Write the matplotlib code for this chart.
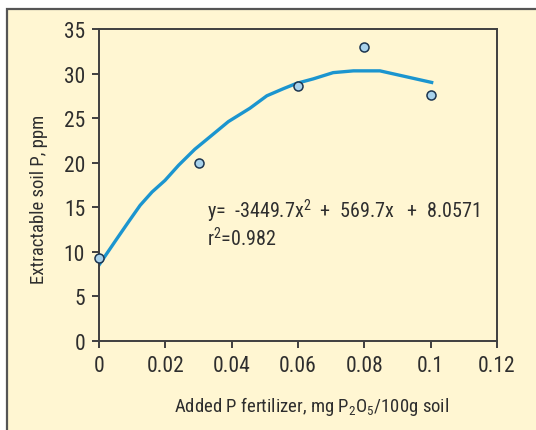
import matplotlib
matplotlib.use("Agg")
import matplotlib.pyplot as plt
from matplotlib.patches import Rectangle

# Data
p_added = [0.0, 0.03, 0.06, 0.08, 0.10]
soil_p = [9.25, 19.95, 28.55, 33.0, 27.6]

# fitted curve as drawn
fit_x = [0.0, 0.0053, 0.009, 0.0124, 0.016, 0.0199, 0.024, 0.0289, 0.0325,
         0.039, 0.0455, 0.0506, 0.0556, 0.0596, 0.0646, 0.0706, 0.0767,
         0.0847, 0.0907, 0.1003]
fit_y = [8.5, 11.4, 13.4, 15.2, 16.7, 18.0, 19.7, 21.5, 22.6,
         24.6, 26.1, 27.5, 28.3, 28.9, 29.4, 30.1, 30.3,
         30.3, 29.8, 29.0]

xticks = [0, 0.02, 0.04, 0.06, 0.08, 0.1, 0.12]
xticklabels = ["0", "0.02", "0.04", "0.06", "0.08", "0.1", "0.12"]
yticks = [0, 5, 10, 15, 20, 25, 30, 35]

cream = "#fff6d2"
dark = "#3f3f3f"
txtc = "#2e2e2e"
font = ["Roboto Condensed", "DejaVu Sans"]

plt.rcParams['font.family'] = font
plt.rcParams['mathtext.fontset'] = 'custom'
plt.rcParams['mathtext.rm'] = 'Roboto Condensed'
plt.rcParams['mathtext.default'] = 'regular'

fig = plt.figure(figsize=(5.36, 4.31), dpi=100)
fig.patch.set_facecolor("white")
# outer cream box
box = Rectangle((7 / 536, -0.1), 1.2, 1.1 - 10 / 431,
                transform=fig.transFigure, facecolor=cream,
                edgecolor="#555555", linewidth=1.6, zorder=-10)
fig.patches.append(box)

ax = fig.add_axes([99 / 536, 1 - 341.7 / 431, 398 / 536, 311.7 / 431])
ax.set_facecolor(cream)

ax.plot(fit_x, fit_y, color="#1b95cf", linewidth=2.4, zorder=2)
ax.plot(p_added, soil_p, "o", markersize=6.5, markerfacecolor="#a8d2ec",
        markeredgecolor="#1c3550", markeredgewidth=1.1, zorder=3, clip_on=False)

ax.set_xlim(0, 0.12)
ax.set_ylim(0, 35)
ax.set_xticks(xticks)
ax.set_xticklabels(xticklabels)
ax.set_yticks(yticks)
for s in ax.spines.values():
    s.set_color(dark)
    s.set_linewidth(1.4)
ax.tick_params(direction="out", length=5, width=1.4, color=dark,
               labelsize=15.5, labelcolor=txtc, pad=5)

ax.set_xlabel("Added P fertilizer, mg P$_2$O$_5$/100g soil", fontsize=13.5,
              color=txtc)
ax.xaxis.set_label_coords(0.535, -0.17)
ax.set_ylabel("Extractable soil P, ppm", fontsize=13.5, color=txtc)
ax.yaxis.set_label_coords(-0.128, 0.458)

ax.text(0.0325, 13.8, "y=  -3449.7x$^2$  +  569.7x   +  8.0571", fontsize=14.5,
        color=txtc)
ax.text(0.0325, 10.7, "r$^2$=0.982", fontsize=14.5, color=txtc)

fig.savefig("out.png", dpi=100)
